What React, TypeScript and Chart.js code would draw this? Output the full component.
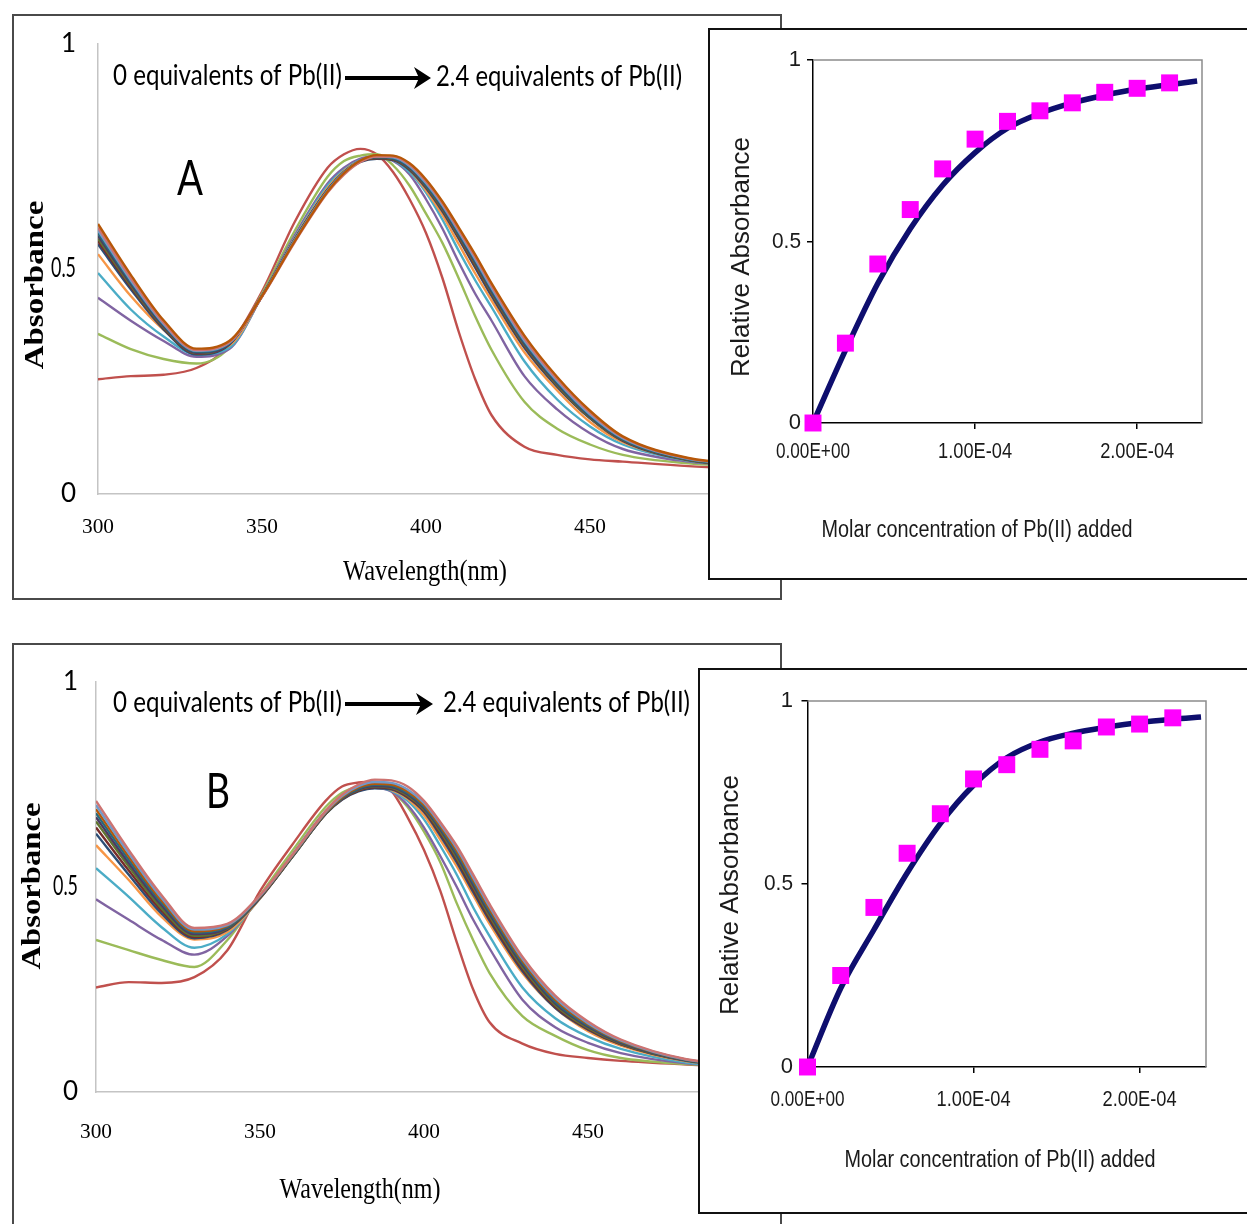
import React, { useEffect, useRef } from "react";
import { Chart, registerables } from "chart.js";

Chart.register(...registerables);

// ---------- shared axes ----------
const WAVELENGTHS = [300, 310, 320, 330, 340, 350, 360, 370, 375, 380, 385, 390, 395, 400, 405, 410, 415, 420, 430, 440, 450, 460, 480, 500];
const X_TICKS_NM = [300, 350, 400, 450, 500];
const Y_TICKS_ABS = [0, 0.5, 1];
const Y_TICK_LABELS = ["0", "0.5", "1"];
const CONC_TICKS = [0, 1e-4, 2e-4];
const CONC_TICK_LABELS = ["0.00E+00", "1.00E-04", "2.00E-04"];

// ---------- panel A spectra (0 → 2.4 equivalents of Pb(II)) ----------
const A_EQ_00 = [0.255, 0.262, 0.265, 0.28, 0.33, 0.45, 0.605, 0.725, 0.755, 0.767, 0.755, 0.715, 0.655, 0.58, 0.48, 0.36, 0.255, 0.175, 0.105, 0.087, 0.077, 0.072, 0.062, 0.055];
const A_EQ_02 = [0.356, 0.322, 0.3, 0.29, 0.325, 0.445, 0.585, 0.705, 0.74, 0.752, 0.755, 0.73, 0.685, 0.623, 0.558, 0.479, 0.395, 0.32, 0.205, 0.145, 0.11, 0.087, 0.068, 0.06];
const A_EQ_04 = [0.436, 0.385, 0.34, 0.305, 0.322, 0.44, 0.575, 0.69, 0.725, 0.745, 0.75, 0.74, 0.71, 0.655, 0.59, 0.515, 0.445, 0.385, 0.262, 0.188, 0.135, 0.1, 0.072, 0.062];
const A_EQ_06 = [0.491, 0.41, 0.35, 0.31, 0.325, 0.44, 0.57, 0.685, 0.72, 0.742, 0.748, 0.742, 0.715, 0.67, 0.61, 0.54, 0.475, 0.415, 0.295, 0.21, 0.15, 0.11, 0.074, 0.063];
const A_EQ_08 = [0.533, 0.44, 0.365, 0.315, 0.33, 0.44, 0.568, 0.68, 0.718, 0.741, 0.748, 0.743, 0.72, 0.675, 0.62, 0.555, 0.49, 0.43, 0.315, 0.23, 0.16, 0.115, 0.075, 0.063];
const A_EQ_10 = [0.555, 0.455, 0.366, 0.31, 0.332, 0.44, 0.566, 0.676, 0.715, 0.738, 0.745, 0.742, 0.72, 0.68, 0.628, 0.567, 0.503, 0.44, 0.325, 0.238, 0.168, 0.118, 0.075, 0.063];
const A_EQ_12 = [0.562, 0.46, 0.369, 0.312, 0.333, 0.44, 0.566, 0.676, 0.715, 0.739, 0.746, 0.743, 0.722, 0.682, 0.631, 0.57, 0.507, 0.444, 0.328, 0.24, 0.169, 0.119, 0.076, 0.063];
const A_EQ_14 = [0.568, 0.463, 0.371, 0.313, 0.334, 0.44, 0.565, 0.675, 0.715, 0.74, 0.747, 0.744, 0.723, 0.684, 0.633, 0.573, 0.511, 0.447, 0.331, 0.242, 0.17, 0.12, 0.076, 0.064];
const A_EQ_16 = [0.574, 0.467, 0.373, 0.314, 0.334, 0.44, 0.565, 0.675, 0.715, 0.74, 0.748, 0.745, 0.725, 0.686, 0.636, 0.576, 0.514, 0.45, 0.334, 0.245, 0.172, 0.121, 0.077, 0.064];
const A_EQ_18 = [0.58, 0.471, 0.376, 0.316, 0.335, 0.44, 0.565, 0.675, 0.715, 0.741, 0.749, 0.746, 0.727, 0.688, 0.639, 0.579, 0.518, 0.454, 0.337, 0.248, 0.174, 0.122, 0.077, 0.064];
const A_EQ_20 = [0.586, 0.475, 0.378, 0.318, 0.336, 0.44, 0.564, 0.674, 0.714, 0.741, 0.75, 0.748, 0.729, 0.691, 0.642, 0.583, 0.522, 0.458, 0.341, 0.251, 0.177, 0.124, 0.078, 0.065];
const A_EQ_22 = [0.592, 0.48, 0.381, 0.32, 0.337, 0.438, 0.56, 0.67, 0.71, 0.738, 0.75, 0.75, 0.732, 0.695, 0.646, 0.587, 0.527, 0.463, 0.346, 0.255, 0.181, 0.126, 0.079, 0.065];
const A_EQ_24 = [0.6, 0.487, 0.386, 0.323, 0.34, 0.44, 0.562, 0.672, 0.713, 0.741, 0.753, 0.752, 0.735, 0.699, 0.65, 0.592, 0.532, 0.468, 0.352, 0.26, 0.185, 0.128, 0.08, 0.066];
const A_COLORS = ["#C0504D", "#9BBB59", "#8064A2", "#4BACC6", "#F79646", "#2C4D75", "#772C2A", "#5F7530", "#4D3B62", "#276A7C", "#729ACA", "#CD7371", "#B65708"];

// ---------- panel B spectra ----------
const B_EQ_00 = [0.255, 0.268, 0.266, 0.28, 0.345, 0.49, 0.605, 0.71, 0.745, 0.755, 0.757, 0.735, 0.67, 0.59, 0.49, 0.365, 0.25, 0.17, 0.118, 0.093, 0.083, 0.076, 0.067, 0.06];
const B_EQ_02 = [0.371, 0.346, 0.322, 0.305, 0.37, 0.48, 0.59, 0.695, 0.73, 0.745, 0.748, 0.735, 0.695, 0.635, 0.56, 0.46, 0.37, 0.29, 0.185, 0.137, 0.102, 0.083, 0.068, 0.06];
const B_EQ_04 = [0.47, 0.42, 0.371, 0.335, 0.38, 0.475, 0.58, 0.685, 0.72, 0.738, 0.742, 0.733, 0.7, 0.645, 0.575, 0.5, 0.42, 0.35, 0.225, 0.158, 0.12, 0.095, 0.07, 0.061];
const B_EQ_06 = [0.546, 0.476, 0.402, 0.352, 0.385, 0.472, 0.578, 0.682, 0.718, 0.736, 0.742, 0.735, 0.71, 0.665, 0.6, 0.53, 0.45, 0.38, 0.255, 0.18, 0.135, 0.105, 0.072, 0.062];
const B_EQ_08 = [0.602, 0.517, 0.427, 0.372, 0.39, 0.472, 0.577, 0.68, 0.716, 0.735, 0.742, 0.737, 0.715, 0.675, 0.615, 0.55, 0.48, 0.41, 0.29, 0.205, 0.148, 0.113, 0.075, 0.063];
const B_EQ_10 = [0.63, 0.53, 0.435, 0.375, 0.395, 0.473, 0.575, 0.678, 0.713, 0.733, 0.741, 0.738, 0.718, 0.683, 0.625, 0.56, 0.488, 0.418, 0.295, 0.205, 0.152, 0.116, 0.076, 0.063];
const B_EQ_12 = [0.645, 0.54, 0.442, 0.378, 0.397, 0.474, 0.575, 0.678, 0.714, 0.735, 0.743, 0.74, 0.72, 0.686, 0.63, 0.566, 0.494, 0.423, 0.3, 0.208, 0.154, 0.117, 0.077, 0.063];
const B_EQ_14 = [0.66, 0.55, 0.448, 0.381, 0.398, 0.475, 0.575, 0.678, 0.715, 0.737, 0.745, 0.742, 0.723, 0.689, 0.635, 0.571, 0.5, 0.429, 0.305, 0.212, 0.156, 0.118, 0.077, 0.064];
const B_EQ_16 = [0.67, 0.558, 0.455, 0.385, 0.4, 0.475, 0.576, 0.679, 0.716, 0.738, 0.746, 0.744, 0.726, 0.692, 0.64, 0.577, 0.505, 0.435, 0.31, 0.216, 0.159, 0.12, 0.078, 0.064];
const B_EQ_18 = [0.68, 0.566, 0.461, 0.389, 0.402, 0.476, 0.577, 0.68, 0.717, 0.74, 0.749, 0.747, 0.729, 0.696, 0.644, 0.582, 0.511, 0.44, 0.315, 0.22, 0.162, 0.122, 0.078, 0.064];
const B_EQ_20 = [0.69, 0.574, 0.467, 0.392, 0.405, 0.477, 0.578, 0.681, 0.719, 0.743, 0.752, 0.75, 0.733, 0.7, 0.648, 0.588, 0.517, 0.446, 0.32, 0.225, 0.165, 0.124, 0.079, 0.065];
const B_EQ_22 = [0.7, 0.582, 0.473, 0.396, 0.407, 0.478, 0.579, 0.683, 0.722, 0.746, 0.756, 0.754, 0.738, 0.705, 0.653, 0.594, 0.523, 0.452, 0.325, 0.23, 0.168, 0.126, 0.079, 0.065];
const B_EQ_24 = [0.71, 0.59, 0.48, 0.4, 0.41, 0.48, 0.58, 0.685, 0.725, 0.75, 0.762, 0.76, 0.745, 0.71, 0.658, 0.6, 0.53, 0.458, 0.33, 0.235, 0.172, 0.128, 0.08, 0.065];
const B_COLORS = ["#C0504D", "#9BBB59", "#8064A2", "#4BACC6", "#F79646", "#2C4D75", "#772C2A", "#5F7530", "#4D3B62", "#276A7C", "#B65708", "#729ACA", "#CD7371"];

// ---------- binding isotherms (insets) ----------
const CONC_POINTS = [0, 2e-5, 4e-5, 6e-5, 8e-5, 1.0e-4, 1.2e-4, 1.4e-4, 1.6e-4, 1.8e-4, 2.0e-4, 2.2e-4];
const A_REL_ABS = [0, 0.22, 0.438, 0.588, 0.7, 0.782, 0.831, 0.86, 0.882, 0.911, 0.922, 0.937];
const B_REL_ABS = [0, 0.25, 0.436, 0.584, 0.692, 0.787, 0.826, 0.868, 0.891, 0.929, 0.937, 0.954];
const CONC_FIT = [0, 2e-5, 4e-5, 6e-5, 8e-5, 1.0e-4, 1.2e-4, 1.4e-4, 1.6e-4, 1.8e-4, 2.0e-4, 2.2e-4, 2.37e-4];
const A_FIT = [0, 0.2, 0.385, 0.535, 0.655, 0.745, 0.812, 0.853, 0.882, 0.903, 0.92, 0.932, 0.942];
const B_FIT = [0, 0.215, 0.375, 0.53, 0.665, 0.77, 0.845, 0.888, 0.912, 0.928, 0.941, 0.95, 0.956];

// ---------- text helper ----------
type Txt = {
  text: string;
  x: number;
  y: number;
  size: number;
  family: string;
  weight?: string;
  width?: number;
  align?: CanvasTextAlign;
  rotate?: boolean;
  sx?: number;
  color?: string;
};

const SERIF = '"Liberation Serif", "Times New Roman", serif';
const CALIBRI = 'Lato, "Noto Sans", sans-serif';
const ARIAL = '"Liberation Sans", Arial, sans-serif';

function drawText(ctx: CanvasRenderingContext2D, t: Txt) {
  ctx.save();
  ctx.font = `${t.weight || "normal"} ${t.size}px ${t.family}`;
  ctx.fillStyle = t.color || "#000";
  ctx.textBaseline = "middle";
  ctx.textAlign = t.align || "center";
  ctx.translate(t.x, t.y);
  if (t.sx) ctx.scale(t.sx, 1);
  if (t.rotate) ctx.rotate(-Math.PI / 2);
  if (t.width) ctx.fillText(t.text, 0, 0, t.width);
  else ctx.fillText(t.text, 0, 0);
  ctx.restore();
}

type Geo = { x0: number; x1: number; y1: number; y0: number };

// ---------- chart box ----------
function ChartBox(props: {
  left: number;
  top: number;
  width: number;
  height: number;
  borderColor: string;
  noBottom?: boolean;
  make: (ox: number, oy: number, cw: number, ch: number) => any;
}) {
  const { left, top, width, height, borderColor, noBottom, make } = props;
  const ref = useRef<HTMLCanvasElement | null>(null);
  const cw = width - 4;
  const ch = height - (noBottom ? 2 : 4);
  const ox = left + 2;
  const oy = top + 2;
  useEffect(() => {
    const chart = new Chart(ref.current as HTMLCanvasElement, make(ox, oy, cw, ch));
    return () => chart.destroy();
  }, []);
  return (
    <div
      style={{
        position: "absolute",
        left,
        top,
        width,
        height,
        boxSizing: "border-box",
        border: `2px solid ${borderColor}`,
        borderBottom: noBottom ? "none" : `2px solid ${borderColor}`,
        background: "#fff",
      }}
    >
      <canvas ref={ref} width={cw} height={ch} style={{ display: "block", width: cw, height: ch }} />
    </div>
  );
}

function padding(geo: Geo, ox: number, oy: number, cw: number, ch: number, tick = 0) {
  return {
    left: geo.x0 - ox - tick,
    right: ox + cw - geo.x1,
    top: geo.y1 - oy,
    bottom: oy + ch - geo.y0 - tick,
  };
}

function spectrumMaker(
  series: number[][],
  colors: string[],
  geo: Geo,
  texts: Txt[],
  arrow: { x1: number; x2: number; y: number },
  xTickY: number,
  yTickRight: number
) {
  return (ox: number, oy: number, cw: number, ch: number) => {
    const deco = {
      id: "deco",
      afterDraw(chart: any) {
        const ctx: CanvasRenderingContext2D = chart.ctx;
        const xs = chart.scales.x;
        const ys = chart.scales.y;
        X_TICKS_NM.forEach((v) =>
          drawText(ctx, { text: String(v), x: xs.getPixelForValue(v), y: xTickY - oy, size: 22, family: SERIF, width: 32 })
        );
        Y_TICKS_ABS.forEach((v, i) =>
          drawText(ctx, {
            text: Y_TICK_LABELS[i],
            x: yTickRight - ox,
            y: ys.getPixelForValue(v),
            size: 26,
            family: CALIBRI,
            align: "right",
            width: Y_TICK_LABELS[i].length > 1 ? 25 : undefined,
          })
        );
        ctx.save();
        ctx.translate(-ox, -oy);
        texts.forEach((t) => drawText(ctx, t));
        // arrow
        ctx.strokeStyle = "#000";
        ctx.fillStyle = "#000";
        ctx.lineWidth = 4;
        ctx.beginPath();
        ctx.moveTo(arrow.x1, arrow.y);
        ctx.lineTo(arrow.x2 - 10, arrow.y);
        ctx.stroke();
        ctx.beginPath();
        ctx.moveTo(arrow.x2, arrow.y);
        ctx.lineTo(arrow.x2 - 17, arrow.y - 11);
        ctx.lineTo(arrow.x2 - 12, arrow.y);
        ctx.lineTo(arrow.x2 - 17, arrow.y + 11);
        ctx.closePath();
        ctx.fill();
        ctx.restore();
      },
    };
    const axis = (min: number, max: number) => ({
      type: "linear",
      min,
      max,
      ticks: { display: false },
      grid: { display: false, drawTicks: false },
      border: { display: true, color: "#C4C4C4", width: 1.5 },
    });
    return {
      type: "scatter",
      data: {
        datasets: series.map((vals, i) => ({
          data: WAVELENGTHS.map((w, j) => ({ x: w, y: vals[j] })),
          showLine: true,
          borderColor: colors[i],
          backgroundColor: colors[i],
          borderWidth: 2.4,
          pointRadius: 0,
          cubicInterpolationMode: "monotone",
          fill: false,
          order: series.length - i,
        })),
      },
      options: {
        responsive: false,
        maintainAspectRatio: false,
        animation: false,
        devicePixelRatio: 1,
        events: [],
        layout: { padding: padding(geo, ox, oy, cw, ch) },
        plugins: { legend: { display: false }, tooltip: { enabled: false } },
        scales: { x: axis(300, 500), y: axis(0, 1) },
      },
      plugins: [deco],
    };
  };
}

function insetMaker(
  rel: number[],
  fit: number[],
  geo: Geo,
  texts: Txt[],
  xTickY: number,
  yTickRight: number
) {
  return (ox: number, oy: number, cw: number, ch: number) => {
    const deco = {
      id: "insetDeco",
      beforeDatasetsDraw(chart: any) {
        const ctx: CanvasRenderingContext2D = chart.ctx;
        const a = chart.chartArea;
        ctx.save();
        ctx.strokeStyle = "#8C8C8C";
        ctx.lineWidth = 1.5;
        ctx.beginPath();
        ctx.moveTo(a.left, a.top);
        ctx.lineTo(a.right, a.top);
        ctx.lineTo(a.right, a.bottom);
        ctx.stroke();
        ctx.restore();
      },
      afterDraw(chart: any) {
        const ctx: CanvasRenderingContext2D = chart.ctx;
        const xs = chart.scales.x;
        const ys = chart.scales.y;
        CONC_TICKS.forEach((v, i) =>
          drawText(ctx, {
            text: CONC_TICK_LABELS[i],
            x: xs.getPixelForValue(v),
            y: xTickY - oy,
            size: 22,
            family: ARIAL,
            width: 74,
            color: "#1a1a1a",
          })
        );
        Y_TICKS_ABS.forEach((v, i) =>
          drawText(ctx, {
            text: Y_TICK_LABELS[i],
            x: yTickRight - ox,
            y: ys.getPixelForValue(v),
            size: 22,
            family: ARIAL,
            align: "right",
            width: Y_TICK_LABELS[i].length > 1 ? 29 : undefined,
            color: "#1a1a1a",
          })
        );
        ctx.save();
        ctx.translate(-ox, -oy);
        texts.forEach((t) => drawText(ctx, t));
        ctx.restore();
      },
    };
    const axis = (min: number, max: number, step: number) => ({
      type: "linear",
      min,
      max,
      ticks: { display: false, stepSize: step, includeBounds: false },
      grid: { display: true, drawOnChartArea: false, drawTicks: true, tickLength: 6, color: "#000", lineWidth: 1.5 },
      border: { display: true, color: "#000", width: 1.5 },
    });
    return {
      type: "scatter",
      data: {
        datasets: [
          {
            data: CONC_POINTS.map((c, j) => ({ x: c, y: rel[j] })),
            showLine: false,
            pointStyle: "rect",
            pointRadius: 12,
            backgroundColor: "#FF00FF",
            borderWidth: 0,
            clip: false,
          },
          {
            data: CONC_FIT.map((c, j) => ({ x: c, y: fit[j] })),
            showLine: true,
            borderColor: "#0E0E6E",
            borderWidth: 5.5,
            pointRadius: 0,
            cubicInterpolationMode: "monotone",
            fill: false,
          },
        ],
      },
      options: {
        responsive: false,
        maintainAspectRatio: false,
        animation: false,
        devicePixelRatio: 1,
        events: [],
        layout: { padding: padding(geo, ox, oy, cw, ch, 6) },
        plugins: { legend: { display: false }, tooltip: { enabled: false } },
        scales: { x: axis(0, 2.4e-4, 1e-4), y: axis(0, 1, 0.5) },
      },
      plugins: [deco],
    };
  };
}

// ---------- texts ----------
const TEXTS_A: Txt[] = [
  { text: "0 equivalents of Pb(II)", x: 227.5, y: 76, size: 28, family: CALIBRI, width: 229 },
  { text: "2.4 equivalents of Pb(II)", x: 559, y: 77, size: 28, family: CALIBRI, width: 246 },
  { text: "A", x: 190, y: 180, size: 48, family: CALIBRI, width: 26 },
  { text: "Wavelength(nm)", x: 425, y: 572, size: 30, family: SERIF, width: 164 },
  { text: "Absorbance", x: 36, y: 285, size: 33, family: SERIF, weight: "bold", width: 170, rotate: true, sx: 0.8 },
];
const TEXTS_B: Txt[] = [
  { text: "0 equivalents of Pb(II)", x: 227.5, y: 703, size: 28, family: CALIBRI, width: 229 },
  { text: "2.4 equivalents of Pb(II)", x: 566.5, y: 703, size: 28, family: CALIBRI, width: 247 },
  { text: "B", x: 218, y: 793, size: 48, family: CALIBRI, width: 24 },
  { text: "Wavelength(nm)", x: 360, y: 1190, size: 30, family: SERIF, width: 161 },
  { text: "Absorbance", x: 33, y: 886, size: 33, family: SERIF, weight: "bold", width: 167, rotate: true, sx: 0.8 },
];
const TEXTS_IA: Txt[] = [
  { text: "Relative Absorbance", x: 742, y: 257, size: 26, family: ARIAL, width: 247, rotate: true, color: "#1a1a1a" },
  { text: "Molar concentration of Pb(II) added", x: 977, y: 531, size: 23, family: ARIAL, width: 311, color: "#1a1a1a" },
];
const TEXTS_IB: Txt[] = [
  { text: "Relative Absorbance", x: 731, y: 895, size: 26, family: ARIAL, width: 245, rotate: true, color: "#1a1a1a" },
  { text: "Molar concentration of Pb(II) added", x: 1000, y: 1161, size: 23, family: ARIAL, width: 311, color: "#1a1a1a" },
];

const A_SERIES = [A_EQ_00, A_EQ_02, A_EQ_04, A_EQ_06, A_EQ_08, A_EQ_10, A_EQ_12, A_EQ_14, A_EQ_16, A_EQ_18, A_EQ_20, A_EQ_22, A_EQ_24];
const B_SERIES = [B_EQ_00, B_EQ_02, B_EQ_04, B_EQ_06, B_EQ_08, B_EQ_10, B_EQ_12, B_EQ_14, B_EQ_16, B_EQ_18, B_EQ_20, B_EQ_22, B_EQ_24];

export default function App() {
  return (
    <div
      style={{
        position: "absolute",
        left: 0,
        top: 0,
        width: 1247,
        height: 1224,
        overflow: "hidden",
        background: "#fff",
      }}
    >
      <ChartBox
        left={12}
        top={14}
        width={770}
        height={586}
        borderColor="#4a4a4a"
        make={spectrumMaker(A_SERIES, A_COLORS, { x0: 98, x1: 754, y1: 44, y0: 494 }, TEXTS_A, { x1: 345, x2: 431, y: 78 }, 527, 76)}
      />
      <ChartBox
        left={12}
        top={643}
        width={770}
        height={581}
        borderColor="#4a4a4a"
        noBottom
        make={spectrumMaker(B_SERIES, B_COLORS, { x0: 96, x1: 752, y1: 682, y0: 1092 }, TEXTS_B, { x1: 345, x2: 433, y: 704 }, 1132, 78)}
      />
      <ChartBox
        left={708}
        top={28}
        width={541}
        height={552}
        borderColor="#111"
        make={insetMaker(A_REL_ABS, A_FIT, { x0: 813, x1: 1202, y1: 60, y0: 423 }, TEXTS_IA, 452, 801)}
      />
      <ChartBox
        left={698}
        top={668}
        width={551}
        height={546}
        borderColor="#111"
        make={insetMaker(B_REL_ABS, B_FIT, { x0: 807.5, x1: 1206, y1: 701, y0: 1067 }, TEXTS_IB, 1100, 793)}
      />
    </div>
  );
}
